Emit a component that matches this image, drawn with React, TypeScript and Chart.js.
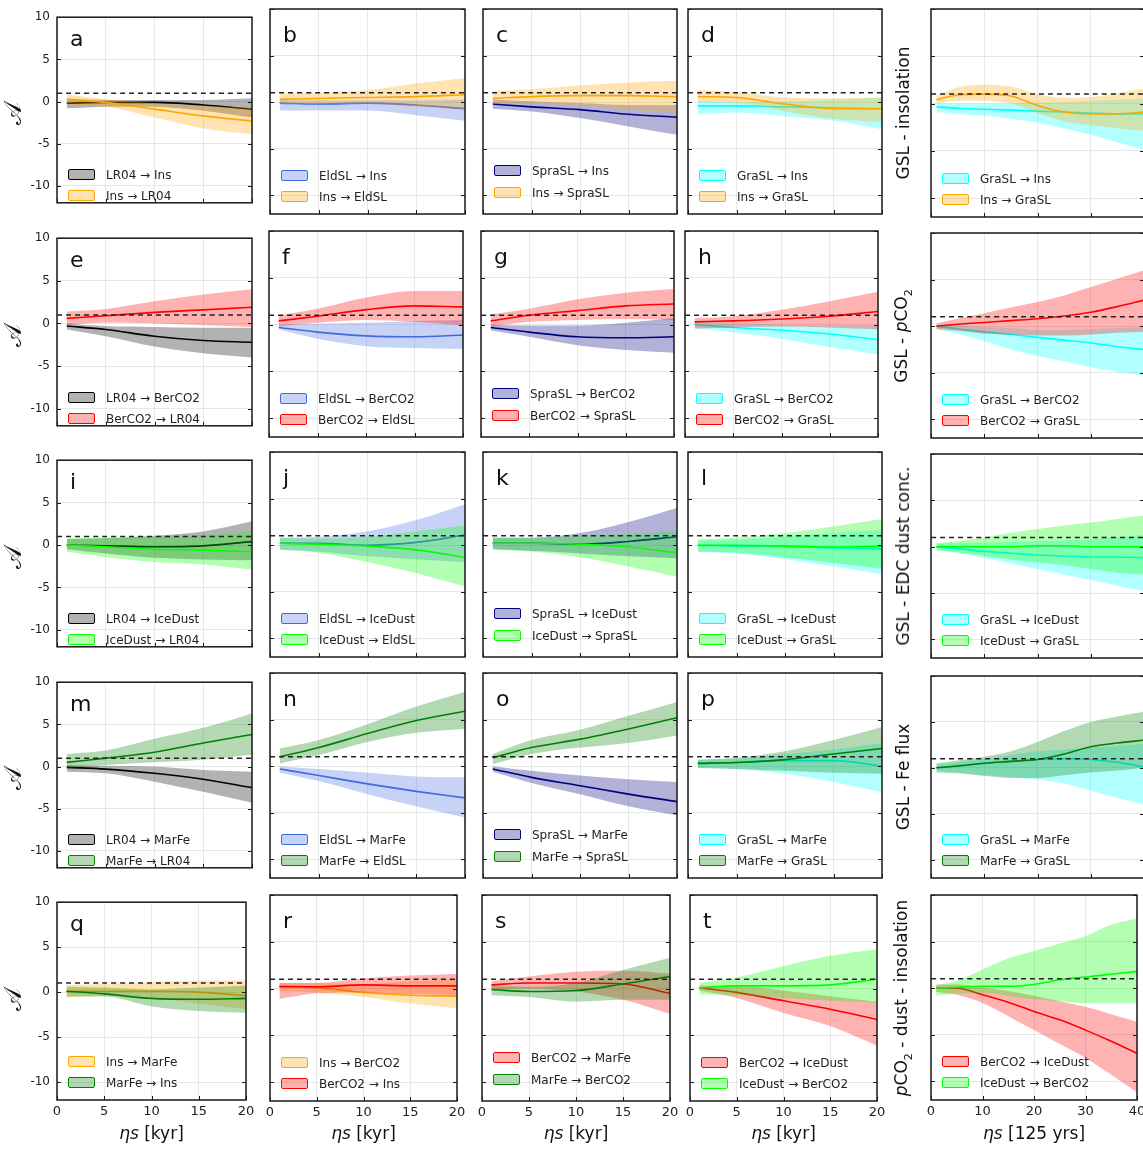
import React, { useEffect, useRef } from 'react';
import { Chart, registerables } from 'chart.js';
Chart.register(...registerables);

const FONT = '"DejaVu Sans", "Noto Sans", sans-serif';

// ---------- axes / ticks ----------
const X_KYR = [1, 5, 10, 15, 20];
const X_125 = [1, 5, 10, 15, 20, 25, 30, 35, 40];
const X_TICKS_KYR = [0, 5, 10, 15, 20];
const X_TICKS_125 = [0, 10, 20, 30, 40];
const Y_TICKS = [-10, -5, 0, 5, 10];
const Y_MIN = -12;
const Y_MAX = 10;
const THRESHOLD = 1;

const COLORS: Record<string, [string, string]> = {
  LR04: ['#000000', 'rgba(0,0,0,0.3)'],
  Ins: ['#FFA500', 'rgba(255,165,0,0.3)'],
  EldSL: ['#4169E1', 'rgba(65,105,225,0.3)'],
  SpraSL: ['#000080', 'rgba(0,0,128,0.3)'],
  GraSL: ['#00FFFF', 'rgba(0,255,255,0.3)'],
  BerCO2: ['#FF0000', 'rgba(255,0,0,0.3)'],
  IceDust: ['#00FF00', 'rgba(0,255,0,0.3)'],
  MarFe: ['#008000', 'rgba(0,128,0,0.3)'],
};

// ---------- data (mean, lower, upper) ----------
// x = X_KYR for columns 1-4, X_125 for column 5
const a_LR04_Ins = { mean: [-0.2, -0.1, -0.1, -0.4, -0.9], lo: [-0.8, -0.6, -0.6, -1.1, -1.9], hi: [0.3, 0.2, 0.2, 0.2, 0.4] };
const a_Ins_LR04 = { mean: [0.3, -0.1, -0.9, -1.7, -2.3], lo: [-0.4, -0.6, -1.9, -3.2, -3.9], hi: [0.8, 0.3, -0.2, -0.5, -0.7] };
const b_EldSL_Ins = { mean: [-0.1, -0.2, -0.1, -0.3, -0.7], lo: [-0.9, -0.9, -0.9, -1.4, -2.0], hi: [0.3, 0.2, 0.2, 0.2, 0.3] };
const b_Ins_EldSL = { mean: [0.3, 0.4, 0.5, 0.6, 0.8], lo: [-0.2, -0.2, -0.2, -0.5, -0.8], hi: [0.9, 1.0, 1.3, 2.0, 2.6] };
const c_SpraSL_Ins = { mean: [-0.2, -0.5, -0.8, -1.3, -1.6], lo: [-0.7, -1.0, -1.7, -2.6, -3.5], hi: [0.3, 0.1, -0.1, -0.3, -0.3] };
const c_Ins_SpraSL = { mean: [0.4, 0.6, 0.7, 0.7, 0.6], lo: [-0.2, -0.2, -0.4, -0.8, -1.2], hi: [1.2, 1.4, 1.8, 2.1, 2.3] };
const d_GraSL_Ins = { mean: [-0.4, -0.4, -0.5, -0.6, -0.7], lo: [-1.3, -1.1, -1.5, -2.0, -2.9], hi: [0.1, 0.0, 0.1, 0.3, 0.5] };
const d_Ins_GraSL = { mean: [0.6, 0.5, -0.2, -0.7, -0.7], lo: [0.0, -0.1, -1.0, -1.8, -2.1], hi: [1.3, 1.1, 0.5, 0.4, 0.5] };
const u1_GraSL_Ins = { mean: [-0.35, -0.5, -0.6, -0.7, -0.8, -0.9, -1.0, -1.1, -1.1], lo: [-0.9, -1.1, -1.3, -1.6, -2.0, -2.6, -3.3, -4.1, -4.9], hi: [0.0, 0.0, 0.0, 0.0, 0.1, 0.2, 0.3, 0.4, 0.5] };
const u1_Ins_GraSL = { mean: [0.4, 0.9, 1.0, 0.8, -0.2, -0.9, -1.1, -1.1, -0.9], lo: [0.0, 0.3, 0.3, 0.0, -1.0, -1.9, -2.3, -2.6, -2.9], hi: [0.8, 1.7, 2.0, 1.8, 1.0, 0.6, 0.7, 1.1, 1.6] };

const e_LR04_BerCO2 = { mean: [-0.3, -0.7, -1.5, -2.0, -2.2], lo: [-0.7, -1.5, -2.7, -3.5, -4.0], hi: [0.0, -0.3, -0.4, -0.5, -0.5] };
const e_BerCO2_LR04 = { mean: [0.6, 0.9, 1.3, 1.6, 1.9], lo: [-0.2, 0.1, 0.0, -0.2, -0.4], hi: [1.4, 1.7, 2.6, 3.4, 4.0] };
const f_EldSL_BerCO2 = { mean: [-0.3, -0.8, -1.2, -1.3, -1.1], lo: [-0.5, -1.5, -2.3, -2.5, -2.6], hi: [0.0, 0.1, 0.2, 0.4, 0.5] };
const f_BerCO2_EldSL = { mean: [0.4, 0.9, 1.6, 2.0, 1.9], lo: [-0.2, 0.2, 0.5, 0.3, -0.1], hi: [1.0, 1.7, 2.9, 3.6, 3.6] };
const g_SpraSL_BerCO2 = { mean: [-0.3, -0.8, -1.3, -1.4, -1.3], lo: [-0.6, -1.3, -2.2, -2.7, -3.0], hi: [0.0, -0.1, -0.1, 0.2, 0.7] };
const g_BerCO2_SpraSL = { mean: [0.4, 1.0, 1.5, 2.0, 2.2], lo: [-0.2, 0.3, 0.5, 0.6, 0.5], hi: [1.1, 1.7, 2.7, 3.4, 3.8] };
const h_GraSL_BerCO2 = { mean: [0.0, -0.3, -0.6, -1.0, -1.6], lo: [-0.4, -0.8, -1.5, -2.4, -3.2], hi: [0.3, 0.2, 0.0, -0.1, -0.1] };
const h_BerCO2_GraSL = { mean: [0.3, 0.4, 0.6, 0.9, 1.4], lo: [-0.4, -0.3, -0.2, -0.3, -0.5], hi: [0.7, 0.9, 1.6, 2.5, 3.5] };
const u2_GraSL_BerCO2 = { mean: [0.0, -0.3, -0.6, -0.9, -1.2, -1.5, -1.8, -2.2, -2.5], lo: [-0.3, -0.8, -1.6, -2.5, -3.2, -3.8, -4.4, -4.9, -5.3], hi: [0.2, 0.1, -0.1, -0.2, -0.4, -0.4, -0.3, -0.2, -0.1] };
const u2_BerCO2_GraSL = { mean: [0.0, 0.2, 0.4, 0.6, 0.8, 1.1, 1.5, 2.1, 2.8], lo: [-0.3, -0.5, -0.8, -0.9, -1.0, -1.0, -0.9, -0.7, -0.6], hi: [0.3, 0.8, 1.4, 2.0, 2.6, 3.3, 4.2, 5.1, 6.0] };

const i_LR04_IceDust = { mean: [0.0, -0.1, -0.2, -0.1, 0.4], lo: [-0.5, -1.0, -1.5, -1.7, -1.8], hi: [0.7, 0.8, 1.1, 1.6, 2.8] };
const i_IceDust_LR04 = { mean: [0.0, -0.2, -0.5, -0.6, -0.8], lo: [-0.8, -1.4, -2.0, -2.3, -2.9], hi: [0.8, 0.9, 1.0, 1.2, 1.6] };
const j_EldSL_IceDust = { mean: [0.2, 0.2, 0.0, 0.3, 1.1], lo: [-0.5, -0.7, -1.2, -1.5, -1.8], hi: [0.8, 0.9, 1.5, 2.7, 4.4] };
const j_IceDust_EldSL = { mean: [0.2, 0.1, -0.1, -0.5, -1.3], lo: [-0.5, -0.8, -1.8, -3.0, -4.4], hi: [0.8, 0.7, 0.9, 1.5, 2.1] };
const k_SpraSL_IceDust = { mean: [0.2, 0.2, 0.1, 0.4, 0.9], lo: [-0.4, -0.6, -0.9, -1.2, -1.4], hi: [0.8, 0.8, 1.3, 2.5, 4.0] };
const k_IceDust_SpraSL = { mean: [0.2, 0.2, 0.1, -0.2, -0.8], lo: [-0.5, -0.7, -1.3, -2.3, -3.4], hi: [0.8, 0.8, 1.0, 1.2, 1.5] };
const l_GraSL_IceDust = { mean: [0.0, -0.1, -0.1, -0.3, -0.4], lo: [-0.7, -0.9, -1.5, -2.3, -3.1], hi: [0.5, 0.6, 0.9, 1.3, 1.6] };
const l_IceDust_GraSL = { mean: [0.0, 0.0, -0.1, -0.2, -0.1], lo: [-0.7, -0.8, -1.3, -1.9, -2.5], hi: [0.6, 0.8, 1.3, 2.0, 2.8] };
const u3_GraSL_IceDust = { mean: [0.0, -0.2, -0.5, -0.7, -0.9, -1.0, -1.1, -1.1, -1.2], lo: [-0.3, -0.7, -1.2, -1.8, -2.4, -3.0, -3.6, -4.2, -4.8], hi: [0.3, 0.4, 0.4, 0.5, 0.6, 0.7, 0.8, 1.0, 1.3] };
const u3_IceDust_GraSL = { mean: [0.0, 0.0, 0.0, 0.0, 0.1, 0.1, 0.0, 0.0, 0.0], lo: [-0.4, -0.6, -1.0, -1.4, -1.7, -2.0, -2.4, -2.8, -3.0], hi: [0.4, 0.6, 1.0, 1.5, 1.9, 2.3, 2.6, 3.0, 3.4] };

const m_LR04_MarFe = { mean: [-0.1, -0.3, -0.8, -1.5, -2.5], lo: [-0.6, -0.8, -1.8, -3.0, -4.3], hi: [0.2, 0.1, 0.0, -0.4, -0.6] };
const m_MarFe_LR04 = { mean: [0.5, 1.0, 1.7, 2.8, 3.8], lo: [-0.2, 0.2, 0.5, 0.8, 1.4], hi: [1.5, 1.9, 3.3, 4.6, 6.3] };
const n_EldSL_MarFe = { mean: [-0.3, -1.0, -1.9, -2.7, -3.4], lo: [-0.7, -1.6, -3.0, -4.3, -5.5], hi: [0.0, -0.3, -0.7, -1.1, -1.2] };
const n_MarFe_EldSL = { mean: [1.0, 2.0, 3.5, 4.9, 5.9], lo: [0.3, 1.2, 2.6, 3.6, 4.0], hi: [1.9, 2.8, 4.5, 6.4, 8.0] };
const o_SpraSL_MarFe = { mean: [-0.3, -1.2, -2.1, -3.0, -3.8], lo: [-0.6, -1.8, -3.0, -4.3, -5.3], hi: [0.0, -0.5, -1.0, -1.4, -1.7] };
const o_MarFe_SpraSL = { mean: [0.9, 2.0, 2.9, 4.0, 5.2], lo: [0.2, 1.3, 2.0, 2.5, 3.3], hi: [1.3, 2.8, 3.9, 5.4, 6.9] };
const p_GraSL_MarFe = { mean: [0.3, 0.4, 0.6, 0.6, 0.0], lo: [-0.2, -0.3, -0.8, -1.7, -2.8], hi: [0.7, 0.8, 1.3, 1.8, 2.5] };
const p_MarFe_GraSL = { mean: [0.3, 0.4, 0.7, 1.3, 1.9], lo: [-0.2, -0.3, -0.5, -0.7, -0.8], hi: [0.7, 0.9, 1.6, 2.8, 4.2] };
const u4_GraSL_MarFe = { mean: [0.0, 0.2, 0.5, 0.7, 0.9, 1.0, 0.9, 0.6, 0.1], lo: [-0.3, -0.5, -0.8, -1.0, -1.3, -1.7, -2.5, -3.3, -4.0], hi: [0.3, 0.6, 1.0, 1.4, 1.8, 2.0, 2.2, 2.4, 2.6] };
const u4_MarFe_GraSL = { mean: [0.0, 0.2, 0.5, 0.7, 0.9, 1.5, 2.3, 2.7, 3.0], lo: [-0.5, -0.6, -0.9, -1.1, -1.1, -0.8, -0.5, -0.3, 0.0], hi: [0.5, 0.8, 1.2, 1.8, 2.8, 4.0, 5.0, 5.6, 6.1] };

const q_Ins_MarFe = { mean: [0.1, 0.1, 0.1, 0.0, -0.4], lo: [-0.6, -0.4, -0.6, -1.3, -1.9], hi: [0.8, 0.9, 1.1, 1.3, 1.3] };
const q_MarFe_Ins = { mean: [0.1, -0.2, -0.7, -0.8, -0.7], lo: [-0.5, -0.5, -1.6, -2.1, -2.3], hi: [0.6, 0.5, 0.3, 0.5, 0.7] };
const r_Ins_BerCO2 = { mean: [0.3, 0.1, -0.4, -0.7, -0.8], lo: [-0.3, -0.4, -0.9, -1.6, -2.1], hi: [0.6, 0.6, 0.5, 0.8, 1.0] };
const r_BerCO2_Ins = { mean: [0.2, 0.2, 0.4, 0.3, 0.3], lo: [-1.1, -0.5, -0.4, -0.6, -0.7], hi: [0.6, 0.6, 1.1, 1.4, 1.6] };
const s_BerCO2_MarFe = { mean: [0.4, 0.6, 0.6, 0.5, -0.5], lo: [-0.1, 0.0, -0.3, -1.2, -2.7], hi: [0.8, 1.3, 1.8, 1.9, 1.6] };
const s_MarFe_BerCO2 = { mean: [-0.1, -0.3, -0.2, 0.5, 1.3], lo: [-0.7, -0.9, -1.4, -1.2, -1.2], hi: [0.3, 0.2, 0.6, 2.0, 3.3] };
const t_BerCO2_IceDust = { mean: [0.1, -0.4, -1.3, -2.2, -3.3], lo: [-0.2, -1.0, -2.6, -4.0, -6.1], hi: [0.3, 0.3, -0.2, -0.8, -1.4] };
const t_IceDust_BerCO2 = { mean: [0.1, 0.3, 0.3, 0.4, 1.0], lo: [-0.6, -0.7, -1.0, -1.3, -1.5], hi: [0.6, 1.2, 2.4, 3.5, 4.2] };
const u5_BerCO2_IceDust = { mean: [0.0, 0.0, -0.7, -1.5, -2.5, -3.4, -4.5, -5.7, -7.0], lo: [-0.4, -0.7, -1.6, -3.0, -4.5, -6.0, -7.5, -9.3, -11.2], hi: [0.4, 0.4, 0.1, -0.3, -0.8, -1.4, -2.0, -2.8, -3.6] };
const u5_IceDust_BerCO2 = { mean: [0.0, 0.1, 0.2, 0.2, 0.4, 0.9, 1.2, 1.5, 1.8], lo: [-0.8, -0.6, -0.5, -0.8, -1.2, -1.4, -1.6, -1.6, -1.6], hi: [0.3, 0.8, 2.0, 3.2, 4.0, 4.8, 5.6, 6.8, 7.5] };

type Band = { mean: number[]; lo: number[]; hi: number[] };
type Ser = [string, string, Band];
type PanelDef = { key: string; letter: string; row: number; col: number; rect: [number, number, number, number]; series: Ser[] };

// plot-area rectangles (left, top, right, bottom) in page pixels
const PANELS: PanelDef[] = [
  { key: 'a', letter: 'a', row: 0, col: 0, rect: [57, 13, 252, 213], series: [['LR04', 'Ins', a_LR04_Ins], ['Ins', 'LR04', a_Ins_LR04]] },
  { key: 'b', letter: 'b', row: 0, col: 1, rect: [270, 9, 465, 214], series: [['EldSL', 'Ins', b_EldSL_Ins], ['Ins', 'EldSL', b_Ins_EldSL]] },
  { key: 'c', letter: 'c', row: 0, col: 2, rect: [483, 9, 677, 214], series: [['SpraSL', 'Ins', c_SpraSL_Ins], ['Ins', 'SpraSL', c_Ins_SpraSL]] },
  { key: 'd', letter: 'd', row: 0, col: 3, rect: [688, 9, 882, 214], series: [['GraSL', 'Ins', d_GraSL_Ins], ['Ins', 'GraSL', d_Ins_GraSL]] },
  { key: 'u1', letter: '', row: 0, col: 4, rect: [931, 9, 1144, 217], series: [['GraSL', 'Ins', u1_GraSL_Ins], ['Ins', 'GraSL', u1_Ins_GraSL]] },

  { key: 'e', letter: 'e', row: 1, col: 0, rect: [57, 234, 252, 436], series: [['LR04', 'BerCO2', e_LR04_BerCO2], ['BerCO2', 'LR04', e_BerCO2_LR04]] },
  { key: 'f', letter: 'f', row: 1, col: 1, rect: [269, 231, 463, 437], series: [['EldSL', 'BerCO2', f_EldSL_BerCO2], ['BerCO2', 'EldSL', f_BerCO2_EldSL]] },
  { key: 'g', letter: 'g', row: 1, col: 2, rect: [481, 231, 674, 437], series: [['SpraSL', 'BerCO2', g_SpraSL_BerCO2], ['BerCO2', 'SpraSL', g_BerCO2_SpraSL]] },
  { key: 'h', letter: 'h', row: 1, col: 3, rect: [685, 231, 878, 437], series: [['GraSL', 'BerCO2', h_GraSL_BerCO2], ['BerCO2', 'GraSL', h_BerCO2_GraSL]] },
  { key: 'u2', letter: '', row: 1, col: 4, rect: [931, 233, 1144, 438], series: [['GraSL', 'BerCO2', u2_GraSL_BerCO2], ['BerCO2', 'GraSL', u2_BerCO2_GraSL]] },

  { key: 'i', letter: 'i', row: 2, col: 0, rect: [57, 456, 252, 657], series: [['LR04', 'IceDust', i_LR04_IceDust], ['IceDust', 'LR04', i_IceDust_LR04]] },
  { key: 'j', letter: 'j', row: 2, col: 1, rect: [270, 452, 465, 657], series: [['EldSL', 'IceDust', j_EldSL_IceDust], ['IceDust', 'EldSL', j_IceDust_EldSL]] },
  { key: 'k', letter: 'k', row: 2, col: 2, rect: [483, 452, 677, 657], series: [['SpraSL', 'IceDust', k_SpraSL_IceDust], ['IceDust', 'SpraSL', k_IceDust_SpraSL]] },
  { key: 'l', letter: 'l', row: 2, col: 3, rect: [688, 452, 882, 657], series: [['GraSL', 'IceDust', l_GraSL_IceDust], ['IceDust', 'GraSL', l_IceDust_GraSL]] },
  { key: 'u3', letter: '', row: 2, col: 4, rect: [931, 454, 1144, 658], series: [['GraSL', 'IceDust', u3_GraSL_IceDust], ['IceDust', 'GraSL', u3_IceDust_GraSL]] },

  { key: 'm', letter: 'm', row: 3, col: 0, rect: [57, 678, 252, 878], series: [['LR04', 'MarFe', m_LR04_MarFe], ['MarFe', 'LR04', m_MarFe_LR04]] },
  { key: 'n', letter: 'n', row: 3, col: 1, rect: [270, 673, 465, 878], series: [['EldSL', 'MarFe', n_EldSL_MarFe], ['MarFe', 'EldSL', n_MarFe_EldSL]] },
  { key: 'o', letter: 'o', row: 3, col: 2, rect: [483, 673, 677, 878], series: [['SpraSL', 'MarFe', o_SpraSL_MarFe], ['MarFe', 'SpraSL', o_MarFe_SpraSL]] },
  { key: 'p', letter: 'p', row: 3, col: 3, rect: [688, 673, 882, 878], series: [['GraSL', 'MarFe', p_GraSL_MarFe], ['MarFe', 'GraSL', p_MarFe_GraSL]] },
  { key: 'u4', letter: '', row: 3, col: 4, rect: [931, 676, 1144, 878], series: [['GraSL', 'MarFe', u4_GraSL_MarFe], ['MarFe', 'GraSL', u4_MarFe_GraSL]] },

  { key: 'q', letter: 'q', row: 4, col: 0, rect: [57, 898, 246, 1100], series: [['Ins', 'MarFe', q_Ins_MarFe], ['MarFe', 'Ins', q_MarFe_Ins]] },
  { key: 'r', letter: 'r', row: 4, col: 1, rect: [270, 895, 457, 1101], series: [['Ins', 'BerCO2', r_Ins_BerCO2], ['BerCO2', 'Ins', r_BerCO2_Ins]] },
  { key: 's', letter: 's', row: 4, col: 2, rect: [482, 895, 670, 1101], series: [['BerCO2', 'MarFe', s_BerCO2_MarFe], ['MarFe', 'BerCO2', s_MarFe_BerCO2]] },
  { key: 't', letter: 't', row: 4, col: 3, rect: [690, 895, 877, 1101], series: [['BerCO2', 'IceDust', t_BerCO2_IceDust], ['IceDust', 'BerCO2', t_IceDust_BerCO2]] },
  { key: 'u5', letter: '', row: 4, col: 4, rect: [931, 895, 1137, 1100], series: [['BerCO2', 'IceDust', u5_BerCO2_IceDust], ['IceDust', 'BerCO2', u5_IceDust_BerCO2]] },
];

const PAD_L = 50;
const PAD_T = 10;
const PAD_R = 14;

function PanelChart({ p }: { p: PanelDef }) {
  const ref = useRef<HTMLCanvasElement>(null);
  const [L, T, R, B] = p.rect;
  const padB = p.row === 4 ? 26 : 4;
  const W = PAD_L + (R - L) + PAD_R;
  const H = PAD_T + (B - T) + padB;

  useEffect(() => {
    if (!ref.current) return;
    const wide = p.col === 4;
    const xs = wide ? X_125 : X_KYR;
    const xmax = wide ? 40 : 20;
    const xticks = wide ? X_TICKS_125 : X_TICKS_KYR;
    const datasets: any[] = [];
    let order = 100;
    p.series.forEach(([from, , d]) => {
      const [line, band] = COLORS[from];
      const loIdx = datasets.length;
      const common = { pointRadius: 0, cubicInterpolationMode: 'monotone' };
      datasets.push({ ...common, data: xs.map((x, i) => ({ x, y: d.lo[i] })), borderWidth: 0, borderColor: 'rgba(0,0,0,0)', fill: false, order: order-- });
      datasets.push({ ...common, data: xs.map((x, i) => ({ x, y: d.hi[i] })), borderWidth: 0, borderColor: 'rgba(0,0,0,0)', backgroundColor: band, fill: loIdx, order: order-- });
      datasets.push({ ...common, data: xs.map((x, i) => ({ x, y: d.mean[i] })), borderWidth: 1.6, borderColor: line, fill: false, order: order-- });
    });
    datasets.push({
      data: [{ x: 0, y: THRESHOLD }, { x: xmax, y: THRESHOLD }],
      borderColor: '#222', borderWidth: 1.5, borderDash: [5, 4], pointRadius: 0, fill: false, order: 0,
    });

    const frame = {
      id: 'frame',
      afterDraw(chart: any) {
        const { ctx, chartArea, scales } = chart;
        const { left, top, right, bottom } = chartArea;
        ctx.save();
        ctx.strokeStyle = '#1a1a1a';
        ctx.lineWidth = 1.5;
        ctx.strokeRect(left, top, right - left, bottom - top);
        ctx.lineWidth = 1;
        ctx.beginPath();
        Y_TICKS.forEach((v) => {
          const py = Math.round(scales.y.getPixelForValue(v)) + 0.5;
          ctx.moveTo(left, py); ctx.lineTo(left + 4, py);
          ctx.moveTo(right - 4, py); ctx.lineTo(right, py);
        });
        xticks.forEach((v) => {
          const px = Math.round(scales.x.getPixelForValue(v)) + 0.5;
          ctx.moveTo(px, bottom); ctx.lineTo(px, bottom - 4);
        });
        ctx.stroke();
        ctx.restore();
      },
    };

    const chart = new Chart(ref.current, {
      type: 'line',
      data: { datasets },
      options: {
        animation: false,
        responsive: false,
        devicePixelRatio: 1,
        layout: { padding: { left: 0, top: PAD_T, right: PAD_R, bottom: 0 } },
        plugins: { legend: { display: false }, tooltip: { enabled: false } },
        elements: { line: { tension: 0.4 } },
        scales: {
          x: {
            type: 'linear', min: 0, max: xmax,
            afterBuildTicks: (s: any) => { s.ticks = xticks.map((v) => ({ value: v })); },
            afterFit: (s: any) => { s.height = padB; },
            grid: { color: 'rgba(0,0,0,0.09)', lineWidth: 1, drawTicks: false },
            border: { display: false },
            ticks: { display: p.row === 4, color: '#222', padding: 4, font: { family: FONT, size: 13 }, maxRotation: 0, autoSkip: false },
          },
          y: {
            type: 'linear', min: Y_MIN, max: Y_MAX,
            afterBuildTicks: (s: any) => { s.ticks = Y_TICKS.map((v) => ({ value: v })); },
            afterFit: (s: any) => { s.width = PAD_L; },
            grid: { color: 'rgba(0,0,0,0.09)', lineWidth: 1, drawTicks: false },
            border: { display: false },
            ticks: { display: p.col === 0, color: '#222', padding: 7, font: { family: FONT, size: 12 } },
          },
        },
      } as any,
      plugins: [frame],
    });
    return () => chart.destroy();
  }, []);

  return (
    <canvas
      ref={ref}
      width={W}
      height={H}
      style={{ position: 'absolute', left: L - PAD_L, top: T - PAD_T, width: W, height: H }}
    />
  );
}

function Overlay({ p }: { p: PanelDef }) {
  const [L, T, R, B] = p.rect;
  const high = p.col === 2;
  const rowsY = high ? [B - 43, B - 21] : [B - 38, B - 17];
  return (
    <>
      {p.letter && (
        <div style={{ position: 'absolute', left: L + 13, top: T + 15, fontSize: 22, lineHeight: '22px', color: '#111' }}>{p.letter}</div>
      )}
      {p.series.map(([from, to], i) => {
        const [line, band] = COLORS[from];
        return (
          <div key={i}>
            <div style={{
              position: 'absolute', left: L + 11, top: rowsY[i] - 6, width: 25, height: 9,
              border: `1.5px solid ${line}`, background: band, borderRadius: 2,
            }} />
            <div style={{ position: 'absolute', left: L + 49, top: rowsY[i] - 8, fontSize: 12, lineHeight: '16px', color: '#222', whiteSpace: 'nowrap' }}>
              {from} → {to}
            </div>
          </div>
        );
      })}
      {p.row === 4 && (
        <div style={{ position: 'absolute', left: (L + R) / 2, top: 1133, transform: 'translate(-50%, -50%)', fontSize: 17, whiteSpace: 'nowrap', color: '#111' }}>
          <i>ηs</i> {p.col === 4 ? '[125 yrs]' : '[kyr]'}
        </div>
      )}
      {p.col === 0 && (
        <div style={{ position: 'absolute', left: 13, top: (T + B) / 2, transform: 'translate(-50%, -50%) rotate(-90deg)', fontSize: 24, lineHeight: '24px', whiteSpace: 'nowrap', color: '#111' }}>
          𝒜
        </div>
      )}
      {p.col === 4 && (
        <div style={{ position: 'absolute', left: 903, top: (T + B) / 2, transform: 'translate(-50%, -50%) rotate(-90deg)', fontSize: 17, whiteSpace: 'nowrap', color: '#111' }}>
          {p.row === 0 && 'GSL - insolation'}
          {p.row === 1 && (<span>GSL - <i>p</i>CO<sub style={{ fontSize: 11 }}>2</sub></span>)}
          {p.row === 2 && 'GSL - EDC dust conc.'}
          {p.row === 3 && 'GSL - Fe flux'}
          {p.row === 4 && (<span><i>p</i>CO<sub style={{ fontSize: 11 }}>2</sub> - dust - insolation</span>)}
        </div>
      )}
    </>
  );
}

export default function App() {
  return (
    <div style={{ position: 'absolute', left: 0, top: 0, width: 1143, height: 1151, overflow: 'hidden', background: '#fff', fontFamily: FONT }}>
      {PANELS.map((p) => <PanelChart key={p.key} p={p} />)}
      {PANELS.map((p) => <Overlay key={'o' + p.key} p={p} />)}
    </div>
  );
}
